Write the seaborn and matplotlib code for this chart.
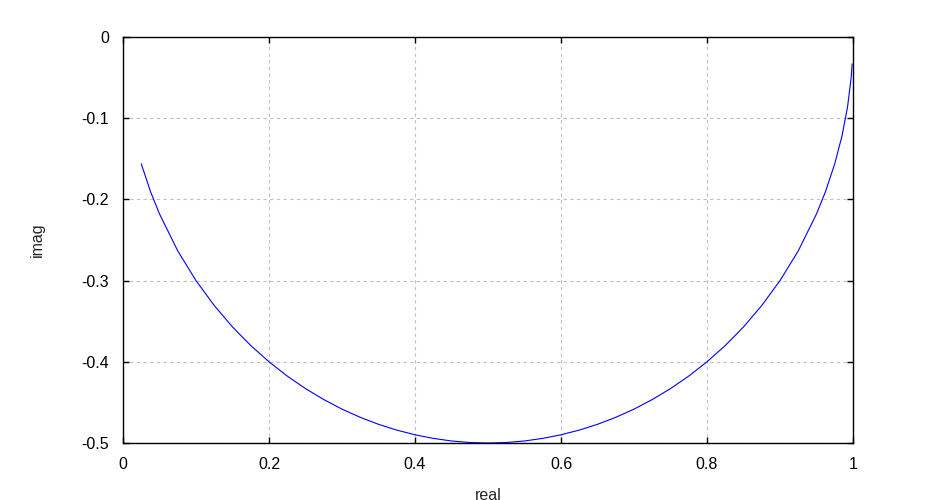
import matplotlib
matplotlib.use("Agg")
import matplotlib.pyplot as plt
import seaborn as sns
import pandas as pd

real = [0.025, 0.0375, 0.05, 0.075, 0.100, 0.125, 0.150, 0.175, 0.200, 0.225,
        0.250, 0.275, 0.300, 0.325, 0.350, 0.375, 0.400, 0.425, 0.450, 0.475,
        0.500, 0.525, 0.550, 0.575, 0.600, 0.625, 0.650, 0.675, 0.700, 0.725,
        0.750, 0.775, 0.800, 0.825, 0.850, 0.875, 0.900, 0.925, 0.950, 0.9625,
        0.975, 0.985, 0.9925, 0.9975, 0.9989]
imag = [-0.1561, -0.1900, -0.2179, -0.2634, -0.3000, -0.3307, -0.3571, -0.3800,
        -0.4000, -0.4176, -0.4330, -0.4465, -0.4583, -0.4684, -0.4770, -0.4841,
        -0.4899, -0.4943, -0.4975, -0.4994, -0.5000, -0.4994, -0.4975, -0.4943,
        -0.4899, -0.4841, -0.4770, -0.4684, -0.4583, -0.4465, -0.4330, -0.4176,
        -0.4000, -0.3800, -0.3571, -0.3307, -0.3000, -0.2634, -0.2179, -0.1900,
        -0.1561, -0.1216, -0.0863, -0.0499, -0.0330]
xticks = [0, 0.2, 0.4, 0.6, 0.8, 1]
xtick_labels = ["0", "0.2", "0.4", "0.6", "0.8", "1"]
yticks = [0, -0.1, -0.2, -0.3, -0.4, -0.5]
ytick_labels = ["0", "-0.1", "-0.2", "-0.3", "-0.4", "-0.5"]

sns.set_style("white")
plt.rcParams["font.family"] = ["Liberation Sans", "DejaVu Sans"]

df = pd.DataFrame({"real": real, "imag": imag})
fig = plt.figure(figsize=(9.44, 5.0), dpi=100)
ax = fig.add_axes([123 / 944, 1 - 443 / 500, 730 / 944, 406 / 500])
sns.lineplot(data=df, x="real", y="imag", sort=False, color="#0000ff", lw=0.8,
             ax=ax, estimator=None)
ax.set_xlim(0, 1)
ax.set_ylim(-0.5, 0)
ax.set_xticks(xticks)
ax.set_xticklabels(xtick_labels)
ax.set_yticks(yticks)
ax.set_yticklabels(ytick_labels)
ax.grid(True, color="#c0c0c0", linestyle=(0, (3, 3)), lw=0.8)
for s in ax.spines.values():
    s.set_color("black")
    s.set_linewidth(1.0)
    s.set_visible(True)
ax.tick_params(direction="in", length=4.5, width=1, colors="black", labelsize=11.5,
               top=True, right=True, bottom=True, left=True, pad=10)
ax.set_xlabel("real", fontsize=11.5, labelpad=11.5)
ax.set_ylabel("imag", fontsize=11.5, labelpad=26)
fig.savefig("out.png", dpi=100)
